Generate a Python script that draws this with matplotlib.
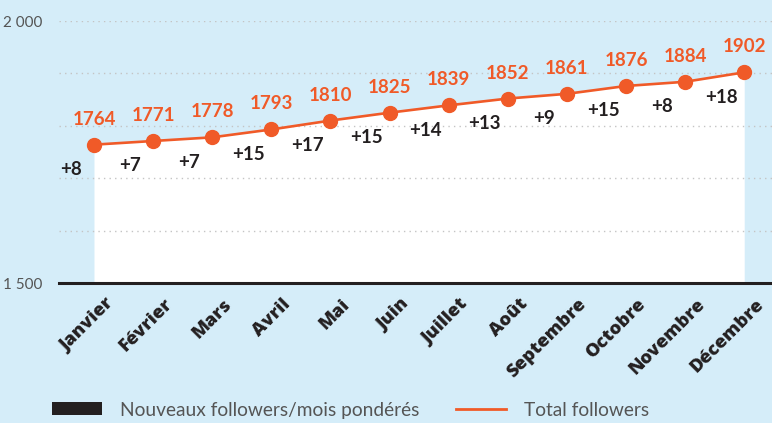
import matplotlib
matplotlib.use("Agg")
import matplotlib.pyplot as plt
import matplotlib.transforms as mtransforms
from matplotlib.patches import Patch
from matplotlib.lines import Line2D
from matplotlib.ticker import FuncFormatter, MultipleLocator

months = ["Janvier", "Février", "Mars", "Avril", "Mai", "Juin", "Juillet",
          "Août", "Septembre", "Octobre", "Novembre", "Décembre"]
total_followers = [1764, 1771, 1778, 1793, 1810, 1825, 1839, 1852, 1861, 1876, 1884, 1902]
new_followers = [8, 7, 7, 15, 17, 15, 14, 13, 9, 15, 8, 18]

BG = "#d5edf9"
ORANGE = "#f05a28"
DARK = "#231f20"
GREY = "#555555"

fig = plt.figure(figsize=(7.72, 4.23), dpi=100, facecolor=BG)
ax = fig.add_axes([59 / 772, 140 / 423, 1 - 59 / 772, 262 / 423])
ax.set_facecolor(BG)

x = list(range(len(months)))

# white area under the total line
ax.fill_between(x, 1500, total_followers, color="white", zorder=1, linewidth=0)
ax.plot(x, total_followers, color=ORANGE, lw=1.9, marker="o", ms=10, zorder=4,
        clip_on=False)

for xi, v, n in zip(x, total_followers, new_followers):
    ax.annotate(str(v), (xi, v), xytext=(0, 17), textcoords="offset pixels",
                ha="center", va="bottom", color=ORANGE, fontsize=13.5,
                fontweight="bold", family="Lato", zorder=5)
    ax.annotate(f"+{n}", (xi, v), xytext=(-23, -25), textcoords="offset pixels",
                ha="center", va="center", color=DARK, fontsize=13.5,
                fontweight="bold", family="Lato", zorder=5)

ax.set_xlim(-0.592, 11.47)
ax.set_ylim(1500, 2000)
ax.yaxis.set_major_locator(MultipleLocator(500))
ax.yaxis.set_minor_locator(MultipleLocator(100))
ax.yaxis.set_major_formatter(FuncFormatter(lambda v, p: f"{int(v):,}".replace(",", " ")))
ax.grid(axis="y", which="both", color="#c4c4c4", linestyle=(0, (1, 3)), lw=1, zorder=0)
ax.tick_params(axis="y", which="both", length=0, pad=12, labelsize=11, labelcolor=GREY)
ax.tick_params(axis="x", length=0, pad=4)

ax.set_xticks(x)
ax.set_xticklabels(months, rotation=45, rotation_mode="anchor", ha="right", va="center",
                   fontweight="heavy", fontsize=13.2, family="Open Sans", color=DARK)
offset = mtransforms.ScaledTranslation(17 / 100, -13 / 100, fig.dpi_scale_trans)
for lab in ax.get_xticklabels():
    lab.set_transform(lab.get_transform() + offset)
for lab in ax.get_yticklabels():
    lab.set_family("Lato")

for s in ["top", "right", "left"]:
    ax.spines[s].set_visible(False)
ax.spines["bottom"].set_color(DARK)
ax.spines["bottom"].set_linewidth(2.2)
ax.spines["bottom"].set_zorder(3)

handles = [Patch(facecolor=DARK, edgecolor="none", label="Nouveaux followers/mois pondérés"),
           Line2D([], [], color=ORANGE, lw=2, label="Total followers")]
leg = fig.legend(handles=handles, loc="center left", bbox_to_anchor=(52 / 772, 13 / 423),
                 ncol=2, frameon=False, handlelength=2.6,
                 handleheight=0.65, handletextpad=0.95, columnspacing=1.9,
                 borderpad=0, borderaxespad=0, prop={"family": "Lato", "size": 13.8})
for t in leg.get_texts():
    t.set_color(GREY)

fig.savefig("out.png", dpi=100, facecolor=BG)
